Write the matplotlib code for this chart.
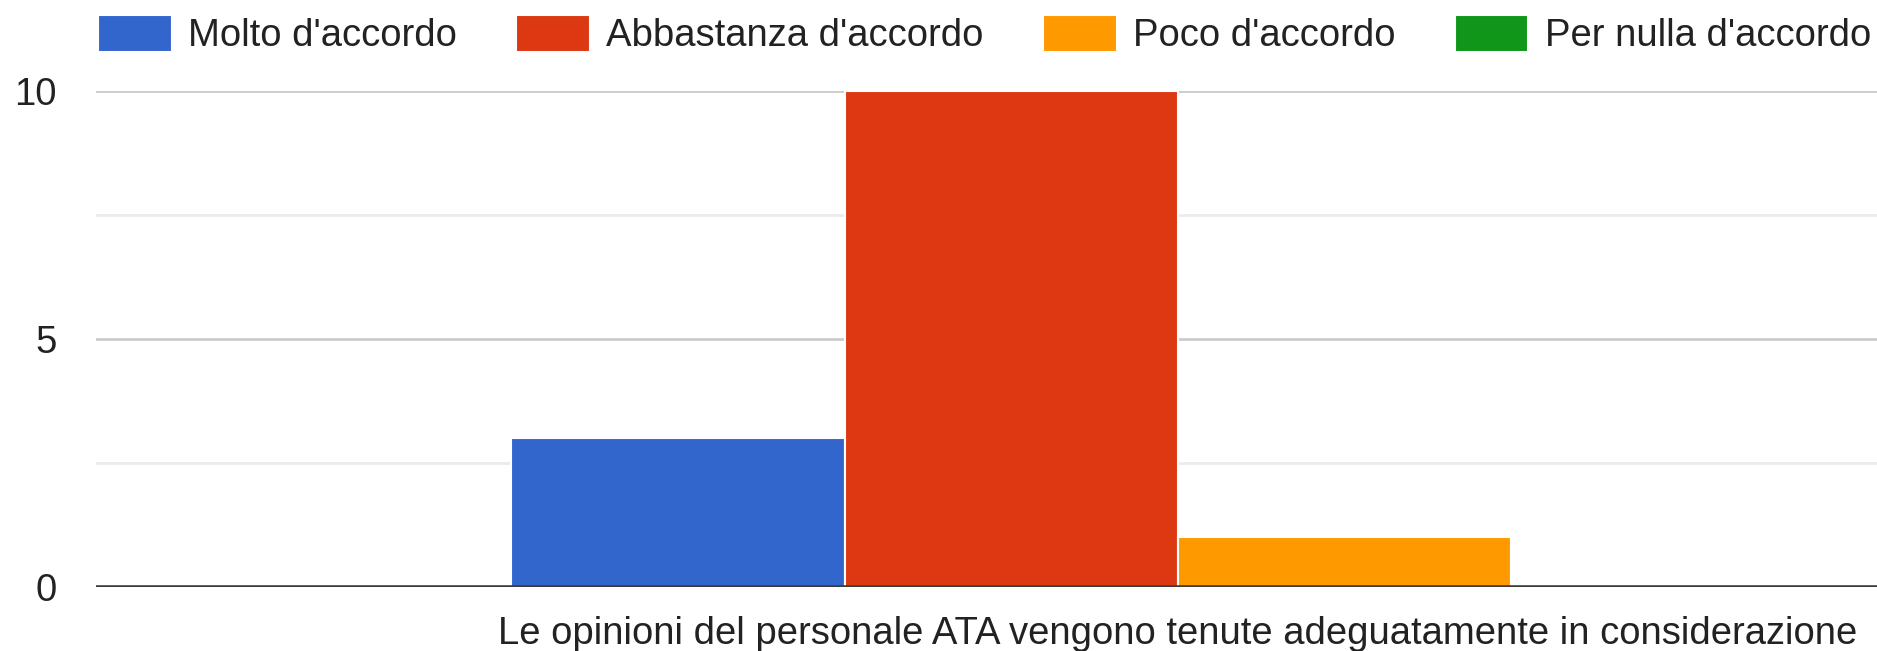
import matplotlib
matplotlib.use("Agg")
import matplotlib.pyplot as plt
import numpy as np

plt.rcParams['font.family'] = ['Liberation Sans', 'DejaVu Sans']

category = "Le opinioni del personale ATA vengono tenute adeguatamente in considerazione"
series = ["Molto d'accordo", "Abbastanza d'accordo", "Poco d'accordo", "Per nulla d'accordo"]
values = [3, 10, 1, 0]
colors = ["#3366cc", "#dc3912", "#ff9900", "#109618"]
yticks = [0, 5, 10]
yminor = [2.5, 7.5]

FS = 27.5
W, H = 1877, 651
fig = plt.figure(figsize=(W / 100, H / 100), dpi=100)
left, right, top, bottom = 96, 2260, 91, 587
ax = fig.add_axes([left / W, 1 - bottom / H, (right - left) / W, (bottom - top) / H])

bw = 0.154
n = len(series)
offsets = (np.arange(n) - (n - 1) / 2) * bw
handles = []
for i in range(n):
    b = ax.bar(0 + offsets[i], values[i], width=bw, color=colors[i],
               edgecolor="white", linewidth=1.5, label=series[i], zorder=3)
    handles.append(b)

ax.set_xlim(-0.5, 0.5)
ax.set_ylim(0, 10)
ax.set_yticks(yticks)
ax.set_yticklabels([str(t) for t in yticks])
ax.set_yticks(yminor, minor=True)
ax.set_xticks([0])
ax.set_xticklabels([category])
for s in ax.spines.values():
    s.set_visible(False)
ax.grid(axis='y', which='major', color='#cccccc', linewidth=2, zorder=0)
ax.grid(axis='y', which='minor', color='#ebebeb', linewidth=2, zorder=0)
ax.axhline(0, color='#3c3c3c', linewidth=3.3, zorder=4)
ax.tick_params(axis='y', which='both', length=0, pad=28, labelsize=FS, labelcolor='#222222')
ax.tick_params(axis='x', length=0, pad=21, labelsize=FS, labelcolor='#222222')

leg = fig.legend(handles=handles, labels=series, loc='upper left',
                 bbox_to_anchor=(98 / W, 1 - 14.5 / H), ncol=4, frameon=False,
                 fontsize=FS, handlelength=1.93, handleheight=1.12,
                 handletextpad=0.42, columnspacing=1.56, borderaxespad=0,
                 borderpad=0, labelcolor='#222222')

fig.savefig("out.png", dpi=100, facecolor="white")
